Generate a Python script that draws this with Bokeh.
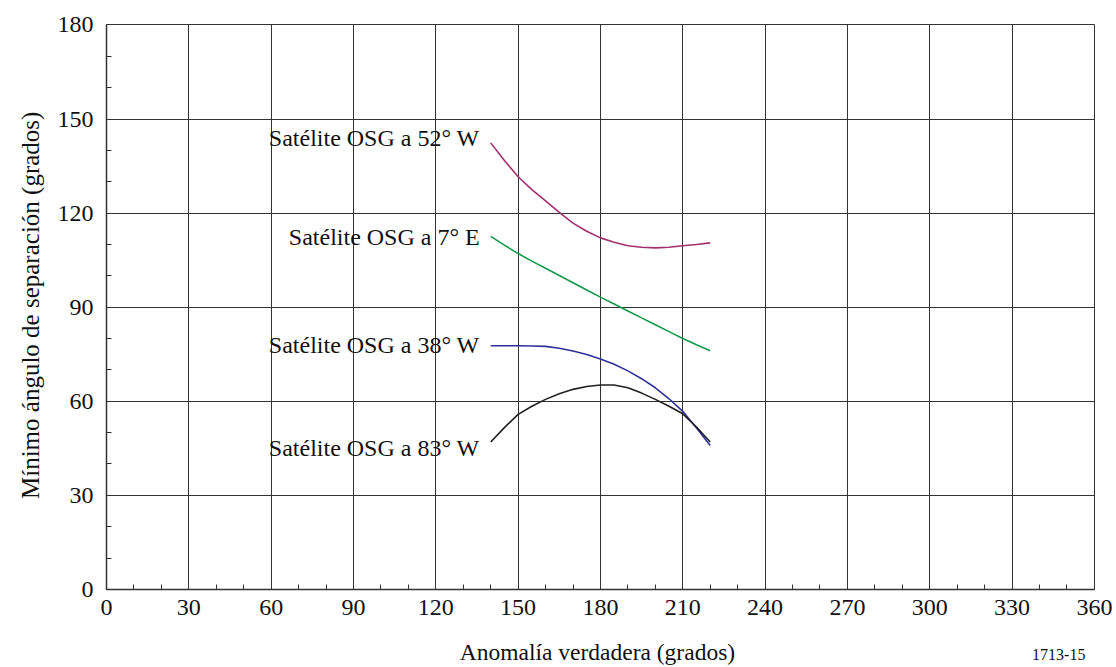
import math
from bokeh.plotting import figure
from bokeh.models import SingleIntervalTicker, Label, Range1d, Grid
from bokeh.embed import file_html
from bokeh.resources import INLINE

# Data
anomaly = [140, 145, 150, 155, 160, 165, 170, 175, 180, 185, 190, 195, 200, 205, 210, 215, 220]
osg_52w = [142.4, 136.8, 131.6, 127.5, 123.9, 120.2, 116.8, 114.2, 112.1, 110.7, 109.6, 109.1, 108.9, 109.1, 109.6, 110.0, 110.5]
osg_7e = [112.6, 109.8, 107.1, 104.7, 102.4, 100.1, 97.8, 95.5, 93.2, 91.0, 88.8, 86.6, 84.4, 82.2, 80.0, 78.0, 76.1]
osg_38w = [77.7, 77.7, 77.7, 77.6, 77.5, 76.9, 76.0, 74.9, 73.5, 71.8, 69.7, 67.2, 64.3, 60.8, 56.8, 51.5, 45.9]
osg_83w = [47.0, 51.6, 55.8, 58.4, 60.6, 62.4, 63.8, 64.7, 65.2, 65.2, 64.3, 62.6, 60.6, 58.4, 56.0, 51.8, 47.0]
series_names = ["Satélite OSG a 52° W", "Satélite OSG a 7° E", "Satélite OSG a 38° W", "Satélite OSG a 83° W"]
label_y = [144, 112.4, 78, 45]
colors = ["#a3306e", "#12994a", "#30309a", "#202020"]
x_title = "Anomalía verdadera (grados)"
y_title = "Mínimo ángulo de separación (grados)"
fig_code = "1713-15"

FONT = "Liberation Serif"
FS = "24px"

p = figure(width=1112, height=667, output_backend="svg", toolbar_location=None,
           x_range=Range1d(-38.63, 366.6), y_range=Range1d(-24.9, 187.8),
           min_border_left=0, min_border_right=0, min_border_top=0, min_border_bottom=0)

p.outline_line_color = None

for ax in (p.xaxis[0], p.yaxis[0]):
    ax.ticker = SingleIntervalTicker(interval=30, num_minor_ticks=3)
    ax.major_tick_in = 0
    ax.major_tick_out = 0
    ax.minor_tick_in = 5
    ax.minor_tick_out = 0
    ax.minor_tick_line_color = "#333333"
    ax.axis_line_color = "#333333"
    ax.axis_line_width = 1.5
    ax.major_label_text_font = FONT
    ax.major_label_text_font_size = FS
    ax.major_label_text_color = "#111111"

p.xaxis.fixed_location = 0
p.yaxis.fixed_location = 0
p.xaxis.bounds = (0, 360)
p.yaxis.bounds = (0, 180)

p.xaxis.major_label_standoff = 11
p.yaxis.major_label_standoff = 13

p.grid.grid_line_color = "#333333"
p.grid.grid_line_width = 1
p.grid.grid_line_alpha = 1.0
p.xgrid.ticker = SingleIntervalTicker(interval=30)
p.ygrid.ticker = SingleIntervalTicker(interval=30)
p.xgrid.bounds = (0, 360)
p.ygrid.bounds = (0, 180)
if "cross_bounds" in Grid.properties():
    p.xgrid.cross_bounds = (0, 180)
    p.ygrid.cross_bounds = (0, 360)

for ys, c in zip([osg_52w, osg_7e, osg_38w, osg_83w], colors):
    p.line(anomaly, ys, line_color=c, line_width=1.6)

for name, ly in zip(series_names, label_y):
    p.add_layout(Label(x=136, y=ly, text=name, text_align="right", text_baseline="middle",
                       text_font=FONT, text_font_size=FS, text_color="#111111"))

p.add_layout(Label(x=178.9, y=-19.8, text=x_title, text_align="center", text_baseline="middle",
                   text_font=FONT, text_font_size="23.5px", text_color="#111111"))
p.add_layout(Label(x=-27.7, y=90.6, text=y_title, angle=math.pi / 2, text_align="center",
                   text_baseline="middle", text_font=FONT, text_font_size="25px", text_color="#111111"))
p.add_layout(Label(x=347, y=-20.6, text=fig_code, text_align="center",
                   text_baseline="middle", text_font=FONT, text_font_size="16px", text_color="#111111"))

open("out.html", "w").write(file_html(p, INLINE))
